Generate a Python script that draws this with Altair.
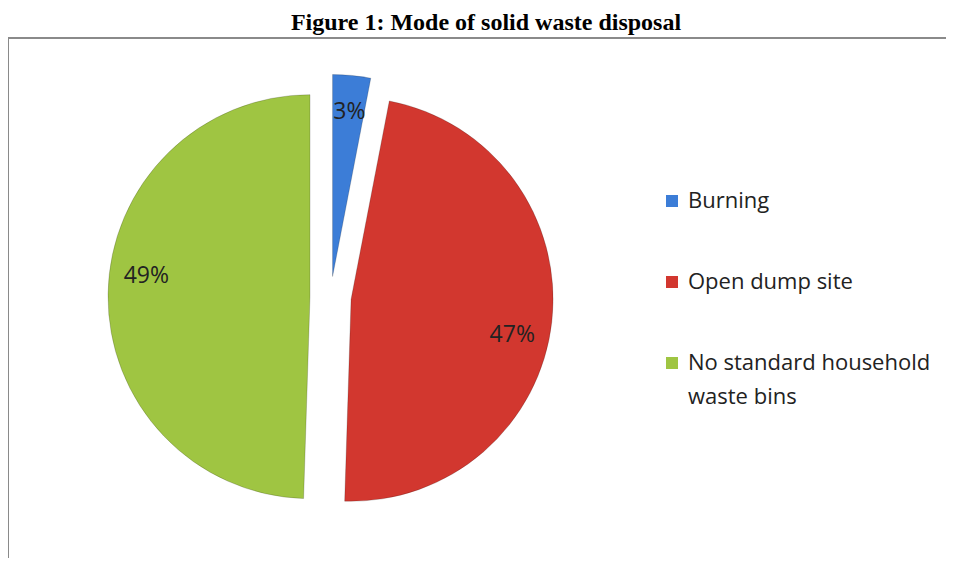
import math
import altair as alt
import pandas as pd

# ---- data ----
categories = ["Burning", "Open dump site", "No standard household waste bins"]
percent = [3, 47, 49]
colors = ["#3C7DD7", "#D2372F", "#9FC542"]
title_text = "Figure 1: Mode of solid waste disposal"

# ---- derived table ----
total = sum(percent)
start, end, acc = [], [], 0
for v in percent:
    start.append(acc / total)
    acc += v
    end.append(acc / total)
mid = [(s + e) / 2 for s, e in zip(start, end)]
lab = [s + 0.535 * (e - s) for s, e in zip(start, end)]   # label angle inside slice
EXPLODE = 20.6  # pixel-like units of the x/y scales below
df = pd.DataFrame({
    "category": categories,
    "value": percent,
    "start": start,
    "end": end,
    "lab": lab,
    "dx": [EXPLODE * math.sin(2 * math.pi * m) for m in mid],
    "dy": [EXPLODE * math.cos(2 * math.pi * m) for m in mid],
    "label": [f"{v}%" for v in percent],
})

# ---- layout ----
W, H = 960, 600
CX, CY = 322.6, 259   # pie centre inside the plot area
xs = alt.Scale(domain=[-CX, W - CX], zero=False, nice=False)
ys = alt.Scale(domain=[CY - H, CY], zero=False, nice=False)
ts = alt.Scale(domain=[0, 1], range=[0, 2 * math.pi])

color = alt.Color(
    "category:N",
    scale=alt.Scale(domain=categories, range=colors),
    legend=alt.Legend(
        title=None, orient="none", legendX=653, legendY=152,
        symbolType="square", symbolSize=144, symbolStrokeWidth=0,
        labelFont="Open Sans", labelFontSize=22, labelColor="#222222",
        labelOffset=5, rowPadding=59, padding=0, labelLimit=500,
        labelExpr="split(replace(datum.label, 'household ', 'household|'), '|')",
    ),
)

base = alt.Chart(df)
arcs = base.mark_arc(outerRadius=202, stroke="#000000", strokeOpacity=0.18, strokeWidth=1).encode(
    x=alt.X("dx:Q", scale=xs, axis=None),
    y=alt.Y("dy:Q", scale=ys, axis=None),
    theta=alt.Theta("start:Q", scale=ts, stack=None),
    theta2="end:Q",
    color=color,
)
labels = base.mark_text(radius=165, font="Open Sans", fontSize=23, color="#222222").encode(
    x=alt.X("dx:Q", scale=xs, axis=None),
    y=alt.Y("dy:Q", scale=ys, axis=None),
    theta=alt.Theta("lab:Q", scale=ts, stack=None),
    text="label:N",
)

chart = alt.layer(arcs, labels).properties(
    width=W,
    height=H,
    autosize=alt.AutoSizeParams(type="none"),
    padding={"left": 0, "top": 30, "right": -22, "bottom": -80},
    title=alt.TitleParams(
        title_text, font="Liberation Serif", fontSize=24, fontWeight="bold",
        color="black", anchor="middle", baseline="top", offset=3, dx=-2,
    ),
).configure(
    view=alt.ViewConfig(stroke="#8a8a8a", strokeWidth=2),
    style={"guide-label": {"lineHeight": 34}},
    background="white",
)

chart.save("out.html", embed_options={"renderer": "svg", "actions": False})
